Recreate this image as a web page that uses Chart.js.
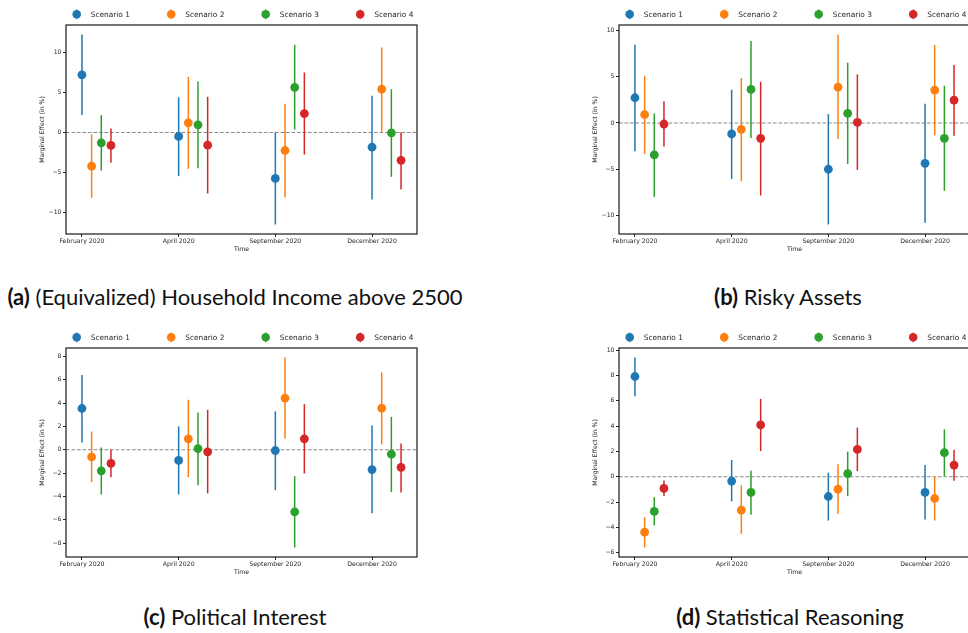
<!DOCTYPE html>
<html>
<head>
<meta charset="utf-8">
<script src="https://cdn.jsdelivr.net/npm/chart.js@4.4.1/dist/chart.umd.min.js"></script>
<style>
  html, body { margin: 0; padding: 0; background: #fff; width: 968px; height: 633px; overflow: hidden; }
  canvas.panel { position: absolute; }
  .cap { position: absolute; width: 470px; text-align: center; font-family: Lato, "Noto Sans", sans-serif;
         font-size: 22px; line-height: 24px; color: #111; white-space: nowrap; }
  .cap b { font-weight: 700; }
</style>
</head>
<body>
<canvas id="panelA" class="panel" width="440" height="262" style="left:0px;top:0px;width:440px;height:262px"></canvas>
<canvas id="panelB" class="panel" width="440" height="262" style="left:553px;top:0px;width:440px;height:262px"></canvas>
<canvas id="panelC" class="panel" width="440" height="262" style="left:0px;top:323px;width:440px;height:262px"></canvas>
<canvas id="panelD" class="panel" width="440" height="262" style="left:553px;top:323px;width:440px;height:262px"></canvas>

<div class="cap" style="left:0px;top:285px"><b>(a)</b> (Equivalized) Household Income above 2500</div>
<div class="cap" style="left:553px;top:285px"><b>(b)</b> Risky Assets</div>
<div class="cap" style="left:0px;top:605px"><b>(c)</b> Political Interest</div>
<div class="cap" style="left:555px;top:605px"><b>(d)</b> Statistical Reasoning</div>

<script>
// Survey waves and scenarios
const categories = ['February 2020', 'April 2020', 'September 2020', 'December 2020'];
const scenarios = ['Scenario 1', 'Scenario 2', 'Scenario 3', 'Scenario 4'];

// (a) Household income above 2500: rows = scenarios, columns = waves
const incomeEst = [
  [7.24, -0.50, -5.77, -1.84],
  [-4.23, 1.21, -2.26, 5.44],
  [-1.30, 0.96, 5.65, -0.04],
  [-1.63, -1.59, 2.38, -3.50]
];
const incomeLow = [
  [2.18, -5.48, -11.55, -8.41],
  [-8.20, -4.56, -8.16, 0.08],
  [-4.77, -4.48, 0.38, -5.56],
  [-3.80, -7.66, -2.76, -7.15]
];
const incomeHigh = [
  [12.30, 4.43, 0.00, 4.60],
  [-0.25, 6.99, 3.60, 10.67],
  [2.18, 6.40, 11.00, 5.44],
  [0.50, 4.48, 7.53, 0.04]
];
const incomeTicks = [-10, -5, 0, 5, 10];

// (b) Risky assets
const riskyEst = [
  [2.72, -1.18, -4.98, -4.34],
  [0.90, -0.68, 3.87, 3.55],
  [-3.44, 3.62, 1.04, -1.65],
  [-0.11, -1.65, 0.07, 2.47]
];
const riskyLow = [
  [-3.05, -6.02, -10.93, -10.75],
  [-3.33, -6.27, -1.72, -1.33],
  [-7.96, -1.61, -4.41, -7.31],
  [-2.54, -7.81, -5.05, -1.36]
];
const riskyHigh = [
  [8.42, 3.58, 0.97, 2.08],
  [5.09, 4.84, 9.53, 8.39],
  [1.04, 8.82, 6.49, 4.01],
  [2.33, 4.44, 5.23, 6.24]
];
const riskyTicks = [-10, -5, 0, 5, 10];

// (c) Political interest
const politicalEst = [
  [3.54, -0.91, -0.06, -1.69],
  [-0.60, 0.94, 4.43, 3.57],
  [-1.80, 0.11, -5.31, -0.37],
  [-1.17, -0.17, 0.94, -1.51]
];
const politicalLow = [
  [0.63, -3.83, -3.46, -5.43],
  [-2.77, -2.34, 0.97, 0.46],
  [-3.83, -3.03, -8.37, -3.63],
  [-2.34, -3.74, -2.03, -3.66]
];
const politicalHigh = [
  [6.40, 2.00, 3.29, 2.09],
  [1.57, 4.29, 7.91, 6.63],
  [0.20, 3.20, -2.26, 2.83],
  [0.00, 3.43, 3.91, 0.54]
];
const politicalTicks = [-8, -6, -4, -2, 0, 2, 4, 6, 8];

// (d) Statistical reasoning
const statEst = [
  [7.92, -0.34, -1.56, -1.24],
  [-4.38, -2.64, -0.98, -1.72],
  [-2.74, -1.24, 0.24, 1.90],
  [-0.92, 4.09, 2.16, 0.92]
];
const statLow = [
  [6.36, -1.95, -3.46, -3.38],
  [-5.59, -4.51, -2.93, -3.46],
  [-3.85, -3.01, -1.53, 0.03],
  [-1.53, 2.03, 0.45, -0.32]
];
const statHigh = [
  [9.42, 1.32, 0.32, 0.92],
  [-3.19, -0.69, 0.98, 0.00],
  [-1.61, 0.47, 1.98, 3.75],
  [-0.29, 6.15, 3.88, 2.14]
];
const statTicks = [-6, -4, -2, 0, 2, 4, 6, 8, 10];

// ---- styling ----
const COLORS = ['#1f77b4', '#ff7f0e', '#2ca02c', '#d62728'];
const DODGE = 0.1;            // horizontal shift between scenarios within a wave
const TEXT = '#262626';
const FONT = 'DejaVu Sans';

function fmt(v) { return v < 0 ? '\u2212' + Math.abs(v) : String(v); }

// error bars, zero reference line, frame and legend
const errorBarPlugin = {
  id: 'errorBars',
  beforeDatasetsDraw(chart) {
    const { ctx, chartArea: a, scales: { x, y } } = chart;
    ctx.save();
    ctx.beginPath();
    ctx.rect(a.left, a.top, a.right - a.left, a.bottom - a.top);
    ctx.clip();
    const y0 = y.getPixelForValue(0);
    ctx.setLineDash([3.7, 1.8]);
    ctx.strokeStyle = '#8a8a8a';
    ctx.lineWidth = 1.1;
    ctx.beginPath();
    ctx.moveTo(a.left, y0);
    ctx.lineTo(a.right, y0);
    ctx.stroke();
    ctx.setLineDash([]);
    chart.data.datasets.forEach((ds, j) => {
      ctx.strokeStyle = ds.backgroundColor;
      ctx.lineWidth = 1.5;
      ds.low.forEach((lo, i) => {
        const px = x.getPixelForValue(i + j * DODGE);
        ctx.beginPath();
        ctx.moveTo(px, y.getPixelForValue(lo));
        ctx.lineTo(px, y.getPixelForValue(ds.high[i]));
        ctx.stroke();
      });
    });
    ctx.restore();
  },
  afterDraw(chart) {
    const { ctx, chartArea: a } = chart;
    ctx.save();
    ctx.strokeStyle = '#1a1a1a';
    ctx.lineWidth = 1.2;
    ctx.strokeRect(a.left, a.top, a.right - a.left, a.bottom - a.top);
    // legend row above the axes
    const ly = a.top - 10.7;
    ctx.font = '7.4px "' + FONT + '"';
    ctx.textAlign = 'left';
    ctx.textBaseline = 'middle';
    chart.data.datasets.forEach((ds, j) => {
      const mx = a.left + 10.7 + j * 94.5;
      ctx.strokeStyle = ds.backgroundColor;
      ctx.fillStyle = ds.backgroundColor;
      ctx.lineWidth = 1.2;
      ctx.beginPath();
      ctx.moveTo(mx, ly - 4.9);
      ctx.lineTo(mx, ly + 4.9);
      ctx.stroke();
      ctx.beginPath();
      ctx.arc(mx, ly, 4.3, 0, Math.PI * 2);
      ctx.fill();
      ctx.fillStyle = TEXT;
      ctx.fillText(ds.label, mx + 14, ly + 0.5);
    });
    ctx.restore();
  }
};

function makePanel(id, est, low, high, yTicks) {
  const all = low.flat().concat(high.flat());
  const yMin = Math.min(...all), yMax = Math.max(...all);
  const yPad = (yMax - yMin) * 0.05;
  const xMaxData = (categories.length - 1) + (scenarios.length - 1) * DODGE;
  const xPad = xMaxData * 0.05;

  const datasets = scenarios.map((name, j) => ({
    label: name,
    data: est[j].map((v, i) => ({ x: i + j * DODGE, y: v })),
    low: low[j],
    high: high[j],
    backgroundColor: COLORS[j],
    borderColor: COLORS[j],
    pointRadius: 4.4,
    pointHoverRadius: 4.4,
    pointBorderWidth: 0,
    showLine: false
  }));

  const tickGrid = {
    display: true, drawOnChartArea: false, drawTicks: true,
    tickLength: 3, tickWidth: 1, tickColor: TEXT, color: TEXT
  };
  const tickFont = { family: FONT, size: 6.2 };

  new Chart(document.getElementById(id), {
    type: 'scatter',
    data: { datasets },
    options: {
      responsive: false,
      animation: false,
      devicePixelRatio: 1,
      layout: { padding: { top: 25, right: 23, left: 0, bottom: 0 } },
      plugins: { legend: { display: false }, tooltip: { enabled: false } },
      events: [],
      scales: {
        x: {
          type: 'linear',
          min: -xPad,
          max: xMaxData + xPad,
          afterBuildTicks: s => { s.ticks = categories.map((c, i) => ({ value: i })); },
          afterFit: s => { s.height = 28; },
          grid: tickGrid,
          border: { display: false },
          ticks: {
            autoSkip: false, maxRotation: 0, minRotation: 0,
            font: tickFont, color: TEXT, padding: 1,
            callback: v => categories[v]
          },
          title: { display: true, text: 'Time', font: tickFont, color: TEXT, padding: { top: 0, bottom: 8.4 } }
        },
        y: {
          type: 'linear',
          min: yMin - yPad,
          max: yMax + yPad,
          afterBuildTicks: s => { s.ticks = yTicks.map(v => ({ value: v })); },
          afterFit: s => { s.width = 66; },
          grid: tickGrid,
          border: { display: false },
          ticks: { font: tickFont, color: TEXT, padding: 1.5, callback: v => fmt(v) },
          title: { display: true, text: 'Marginal Effect (in %)', font: tickFont, color: TEXT, padding: { top: 39, bottom: 0 } }
        }
      }
    },
    plugins: [errorBarPlugin]
  });
}

makePanel('panelA', incomeEst, incomeLow, incomeHigh, incomeTicks);
makePanel('panelB', riskyEst, riskyLow, riskyHigh, riskyTicks);
makePanel('panelC', politicalEst, politicalLow, politicalHigh, politicalTicks);
makePanel('panelD', statEst, statLow, statHigh, statTicks);
</script>
</body>
</html>
